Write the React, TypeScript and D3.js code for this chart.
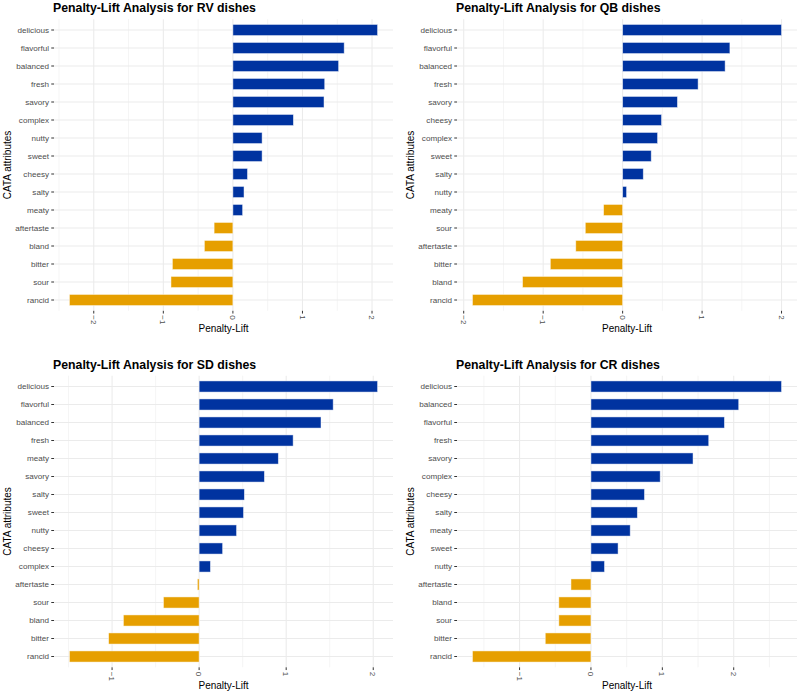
import React from "react";
import * as d3 from "d3";

const rvAttributes = ["delicious","flavorful","balanced","fresh","savory","complex","nutty","sweet","cheesy","salty","meaty","aftertaste","bland","bitter","sour","rancid"];
const rvValues = [2.08,1.60,1.52,1.32,1.31,0.87,0.42,0.42,0.21,0.16,0.14,-0.27,-0.41,-0.87,-0.89,-2.35];

const qbAttributes = ["delicious","flavorful","balanced","fresh","savory","cheesy","complex","sweet","salty","nutty","meaty","sour","aftertaste","bitter","bland","rancid"];
const qbValues = [2.00,1.35,1.29,0.95,0.69,0.49,0.44,0.36,0.26,0.05,-0.24,-0.47,-0.59,-0.91,-1.26,-1.89];

const sdAttributes = ["delicious","flavorful","balanced","fresh","meaty","savory","salty","sweet","nutty","cheesy","complex","aftertaste","sour","bland","bitter","rancid"];
const sdValues = [2.05,1.54,1.40,1.08,0.91,0.75,0.52,0.51,0.43,0.27,0.13,-0.02,-0.41,-0.87,-1.04,-1.49];

const crAttributes = ["delicious","balanced","flavorful","fresh","savory","complex","cheesy","salty","meaty","sweet","nutty","aftertaste","bland","sour","bitter","rancid"];
const crValues = [2.67,2.07,1.87,1.65,1.43,0.97,0.75,0.65,0.55,0.38,0.19,-0.28,-0.45,-0.45,-0.64,-1.66];

const panelTitles = ["Penalty-Lift Analysis for RV dishes","Penalty-Lift Analysis for QB dishes","Penalty-Lift Analysis for SD dishes","Penalty-Lift Analysis for CR dishes"];

const FONT = "'Liberation Sans', Arial, Helvetica, sans-serif";
const POS = "#0033A0";
const NEG = "#E69F00";
const GRID = "#EBEBEB";

type PanelProps = { title: string; cats: string[]; vals: number[]; x0: number; y0: number; left: number; right: number };

function Panel({ title, cats, vals, x0, y0, left, right }: PanelProps) {
  const step = 18;
  const n = cats.length;
  const top = 19.2;
  const bottom = top + step * (n - 1 + 1.2);
  const ext = d3.extent(vals) as [number, number];
  const pad = (ext[1] - ext[0]) * 0.05;
  const x = d3.scaleLinear().domain([ext[0] - pad, ext[1] + pad]).range([left, right]);
  const y = d3.scalePoint<string>().domain(cats).range([top + step * 0.6, bottom - step * 0.6]);
  const [dmin, dmax] = x.domain();
  const majors = d3.range(Math.ceil(dmin), Math.floor(dmax) + 1);
  const minors = d3.range(Math.ceil(dmin * 2), Math.floor(dmax * 2) + 1).map((v) => v / 2).filter((v) => !Number.isInteger(v));
  const bh = step * 0.62;
  return (
    <g transform={`translate(${x0},${y0})`} fontFamily={FONT}>
      <text x={left - 1} y={12} fontSize={12.3} fontWeight="bold" fill="#000">{title}</text>
      {minors.map((v) => (
        <line key={"mi" + v} x1={x(v)} x2={x(v)} y1={top} y2={bottom} stroke={GRID} strokeWidth={0.55} />
      ))}
      {majors.map((v) => (
        <line key={"ma" + v} x1={x(v)} x2={x(v)} y1={top} y2={bottom} stroke={GRID} strokeWidth={1.07} />
      ))}
      {cats.map((c) => (
        <line key={"hg" + c} x1={left} x2={right} y1={y(c)} y2={y(c)} stroke={GRID} strokeWidth={1.07} />
      ))}
      {cats.map((c, i) => {
        const v = vals[i];
        const xa = x(Math.min(0, v));
        const xb = x(Math.max(0, v));
        return (
          <rect key={"b" + c} x={xa} y={(y(c) as number) - bh / 2} width={Math.max(0.5, xb - xa)} height={bh}
            fill={v >= 0 ? POS : NEG} stroke="#ffffff" strokeOpacity={0.6} strokeWidth={0.8} />
        );
      })}
      {cats.map((c) => (
        <g key={"yt" + c}>
          <line x1={left - 2.75} x2={left} y1={y(c)} y2={y(c)} stroke="#333" strokeWidth={1} />
          <text x={left - 5} y={y(c)} dy="0.35em" textAnchor="end" fontSize={8.1} fill="#4D4D4D">{c}</text>
        </g>
      ))}
      {majors.map((v) => (
        <g key={"xt" + v}>
          <line x1={x(v)} x2={x(v)} y1={bottom} y2={bottom + 2.75} stroke="#333" strokeWidth={1} />
          <text transform={`translate(${x(v)},${bottom + 4.5}) rotate(90)`} dy="0.35em" textAnchor="start" fontSize={8.1} fill="#4D4D4D">{d3.format("d")(v)}</text>
        </g>
      ))}
      <text x={(left + right) / 2} y={bottom + 21.5} textAnchor="middle" fontSize={10} fill="#000">Penalty-Lift</text>
      <text transform={`translate(${left - 46.5},${(top + bottom) / 2}) rotate(-90)`} dy="0.35em" textAnchor="middle" fontSize={10} fill="#000">CATA attributes</text>
    </g>
  );
}

export default function App() {
  return (
    <svg width={800} height={694} style={{ position: "absolute", left: 0, top: 0, display: "block", background: "#fff" }}>
      <rect width={800} height={694} fill="#fff" />
      <Panel title={panelTitles[0]} cats={rvAttributes} vals={rvValues} x0={0} y0={0} left={54} right={393} />
      <Panel title={panelTitles[1]} cats={qbAttributes} vals={qbValues} x0={0} y0={0} left={457} right={797} />
      <Panel title={panelTitles[2]} cats={sdAttributes} vals={sdValues} x0={0} y0={356.5} left={54} right={393} />
      <Panel title={panelTitles[3]} cats={crAttributes} vals={crValues} x0={0} y0={356.5} left={457} right={797} />
    </svg>
  );
}
